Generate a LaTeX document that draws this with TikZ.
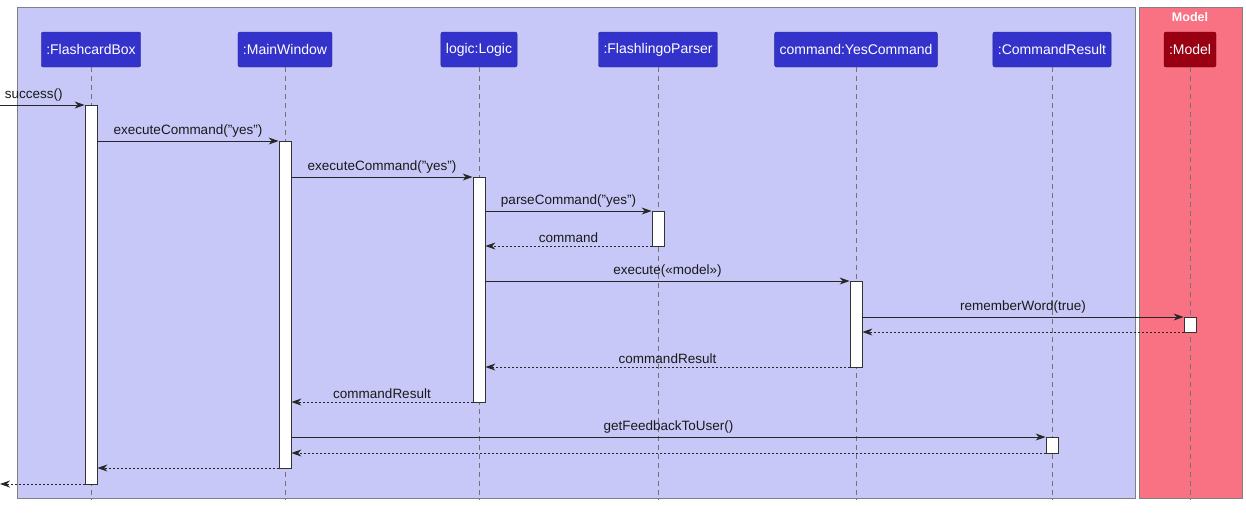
\documentclass[tikz,border=0pt]{standalone}
\usepackage{fontspec}
\setmainfont{Liberation Sans}
\usetikzlibrary{arrows.meta}
\definecolor{bbg}{HTML}{C8C8F8}
\definecolor{hdr}{HTML}{3333CC}
\definecolor{rbg}{HTML}{F87284}
\definecolor{mhdr}{HTML}{990011}
\begin{document}
\begin{tikzpicture}[x=1pt,y=-1pt,
  head/.style={draw=hdr!70!black,fill=hdr,text=white,rounded corners=2pt,minimum height=35pt,inner xsep=5pt,font=\fontsize{14}{16}\selectfont},
  life/.style={draw=gray!90!black,dash pattern=on 5pt off 4pt,line width=0.8pt},
  act/.style={draw=black!80,fill=white,minimum width=12pt,inner sep=0pt,line width=0.8pt},
  msg/.style={draw=black!85,line width=0.9pt,-{Stealth[length=10pt,width=7pt]}},
  ret/.style={draw=black!85,line width=0.9pt,dash pattern=on 2pt off 2pt,-{Stealth[length=10pt,width=7pt]}},
  lbl/.style={font=\fontsize{13.5}{16}\selectfont,text=black!90,inner sep=1pt}]
\useasboundingbox (0,0) rectangle (1246,512);
\fill[white] (0,0) rectangle (1246,512);
\draw[gray,fill=bbg,line width=0.8pt] (17,7) rectangle (1135,498);
\draw[gray,fill=rbg,line width=0.8pt] (1139,7) rectangle (1242,498);
\node[text=white,font=\fontsize{12.5}{14}\bfseries] (mlbl) at (1190,17) {Model};
% headers
\node[head] (fb) at (91,49.5) {:FlashcardBox};
\node[head] (mw) at (285,49.5) {:MainWindow};
\node[head] (lg) at (479,49.5) {logic:Logic};
\node[head] (pa) at (658,49.5) {:FlashlingoParser};
\node[head] (yc) at (856,49.5) {command:YesCommand};
\node[head] (cr) at (1052,49.5) {:CommandResult};
\node[head,fill=mhdr,draw=mhdr!70!black] (md) at (1190,49.5) {:Model};
% lifelines
\foreach \n/\x in {fb/91,mw/285,lg/479,pa/658,yc/856,cr/1052,md/1190}
  \draw[life] (\n.south) -- (\x,500);
% activations
\node[act,minimum height=379pt] (fbA) at (91,294.5) {};
\node[act,minimum height=327pt] (mwA) at (285,304.5) {};
\node[act,minimum height=225pt] (lgA) at (479,289.5) {};
\node[act,minimum height=35pt] (paA) at (658,228.5) {};
\node[act,minimum height=86pt] (ycA) at (856,324) {};
\node[act,minimum height=15pt] (mdA) at (1190,324.5) {};
\node[act,minimum height=16pt] (crA) at (1052,445) {};
\coordinate (in) at (0,105);
\coordinate (out) at (0,484);
% messages
\draw[msg] (in) -- (fbA.west|-0,105) node[lbl,pos=0.4,above=2pt] {success()};
\draw[msg] (fbA.east|-0,141) -- node[lbl,above=2pt] {executeCommand("yes")} (mwA.west|-0,141);
\draw[msg] (mwA.east|-0,177) -- node[lbl,above=2pt] {executeCommand("yes")} (lgA.west|-0,177);
\draw[msg] (lgA.east|-0,211) -- node[lbl,above=2pt] {parseCommand("yes")} (paA.west|-0,211);
\draw[ret] (paA.west|-0,246) -- node[lbl,above=2pt] {command} (lgA.east|-0,246);
\draw[msg] (lgA.east|-0,281) -- node[lbl,above=2pt] {execute(«model»)} (ycA.west|-0,281);
\draw[msg] (ycA.east|-0,317) -- node[lbl,above=2pt] {rememberWord(true)} (mdA.west|-0,317);
\draw[ret] (mdA.west|-0,332) -- (ycA.east|-0,332);
\draw[ret] (ycA.west|-0,367) -- node[lbl,above=2pt] {commandResult} (lgA.east|-0,367);
\draw[ret] (lgA.west|-0,402) -- node[lbl,above=2pt] {commandResult} (mwA.east|-0,402);
\draw[msg] (mwA.east|-0,437) -- node[lbl,above=2pt] {getFeedbackToUser()} (crA.west|-0,437);
\draw[ret] (crA.west|-0,453) -- (mwA.east|-0,453);
\draw[ret] (mwA.west|-0,468) -- (fbA.east|-0,468);
\draw[ret] (fbA.west|-0,484) -- (out);
\end{tikzpicture}
\end{document}
